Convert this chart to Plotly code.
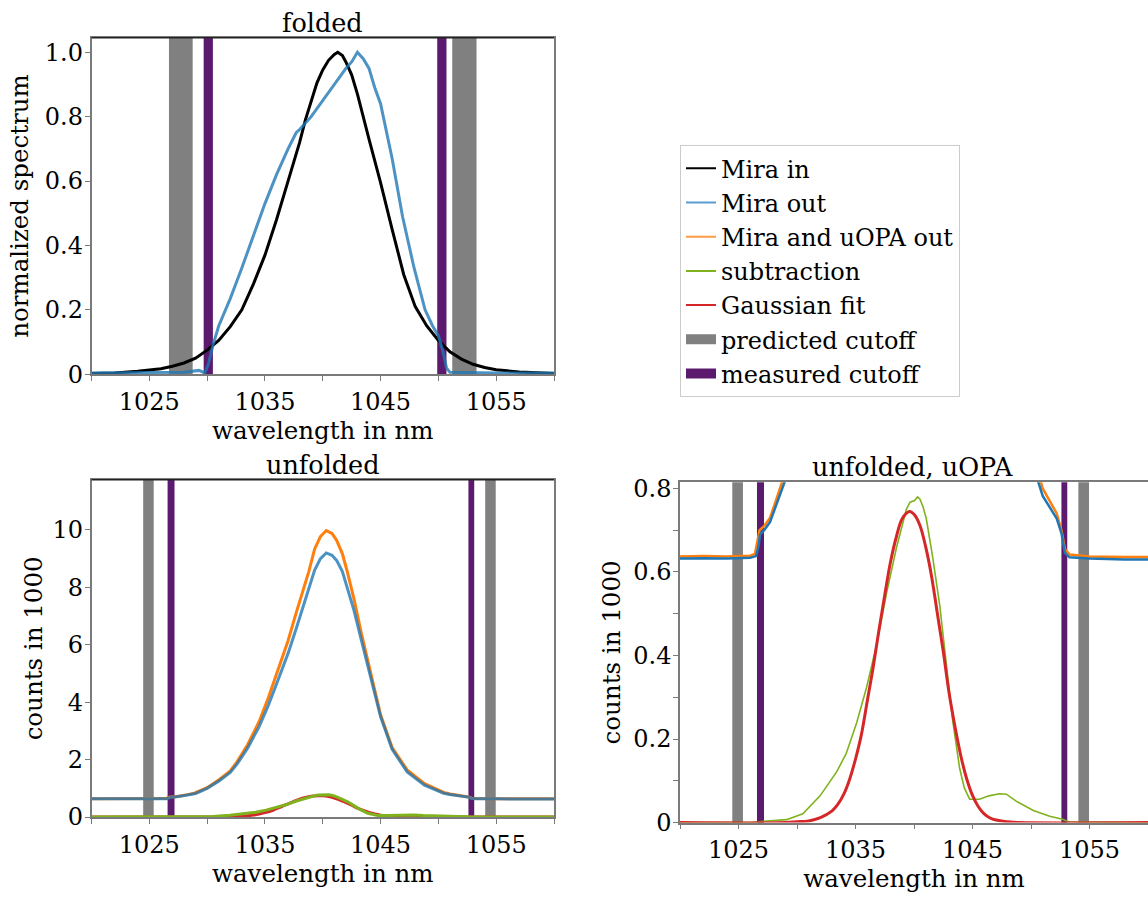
import plotly.graph_objects as go

# ---------------- data ----------------
# folded: normalized spectra
fold_in_wl = [1020, 1022, 1024, 1026, 1027, 1028, 1029, 1030, 1031, 1032, 1033, 1034, 1035, 1036,
              1037, 1038, 1038.5, 1039, 1039.5, 1040, 1040.5, 1041, 1041.3, 1041.7, 1042, 1042.5,
              1043, 1044, 1045, 1046, 1047, 1048, 1049, 1050, 1051, 1052, 1053, 1054, 1055, 1057, 1060]
fold_in = [0.002, 0.004, 0.009, 0.017, 0.025, 0.035, 0.05, 0.075, 0.105, 0.148, 0.2, 0.28, 0.37, 0.48,
           0.6, 0.72, 0.79, 0.85, 0.905, 0.945, 0.975, 0.993, 1.0, 0.99, 0.97, 0.93,
           0.87, 0.73, 0.595, 0.45, 0.31, 0.21, 0.15, 0.105, 0.07, 0.047, 0.031, 0.021, 0.014, 0.007, 0.002]

fold_out_wl = [1020, 1025, 1028, 1029.3, 1029.8, 1030.1, 1030.5, 1031, 1032, 1033, 1034, 1035, 1036,
               1037, 1037.7, 1038, 1039, 1040, 1041, 1042, 1042.5, 1043, 1043.5, 1044, 1044.5, 1045,
               1046, 1046.9, 1047.9, 1048.85, 1049.5, 1050, 1050.4, 1050.7, 1051, 1055, 1060]
fold_out = [0.004, 0.004, 0.006, 0.012, 0.004, 0.03, 0.09, 0.15, 0.235, 0.33, 0.43, 0.53, 0.62,
            0.70, 0.75, 0.76, 0.80, 0.85, 0.90, 0.95, 0.97, 1.0, 0.98, 0.95, 0.89, 0.84,
            0.67, 0.49, 0.33, 0.2, 0.15, 0.12, 0.07, 0.02, 0.006, 0.004, 0.004]

# unfolded: counts in 1000
unf_out_wl = [1020, 1022, 1024, 1026, 1026.5, 1026.7, 1026.85, 1027.2, 1027.7, 1028.3, 1029, 1030, 1031,
              1032, 1032.6, 1033.5, 1034.5, 1035.3, 1036.1, 1037, 1037.7, 1038.3, 1038.8, 1039.3,
              1039.8, 1040.3, 1040.8, 1041.2, 1041.7, 1042.1, 1042.7, 1043.3, 1044.1, 1045, 1046,
              1047.3, 1048.8, 1049.6, 1050.46, 1051, 1051.6, 1052.2, 1052.6, 1052.9, 1053.3, 1055,
              1058, 1060]
unf_out = [0.632, 0.633, 0.632, 0.634, 0.638, 0.66, 0.69, 0.70, 0.72, 0.765, 0.82, 1.0, 1.25,
           1.55, 1.85, 2.4, 3.15, 3.9, 4.74, 5.7, 6.56, 7.3, 7.9, 8.6,
           9.0, 9.2, 9.12, 8.94, 8.55, 8.04, 7.2, 6.22, 4.97, 3.5, 2.36,
           1.57, 1.11, 0.97, 0.83, 0.782, 0.755, 0.728, 0.693, 0.646, 0.635, 0.632,
           0.630, 0.630]

unf_both_wl = [1020, 1022, 1024, 1026, 1026.4, 1026.6, 1026.8, 1027.2, 1027.7, 1028.3, 1028.9, 1030, 1031,
               1032, 1032.6, 1033.5, 1034.5, 1035.3, 1036.1, 1037, 1037.7, 1038.3, 1038.8, 1039.3,
               1039.8, 1040.3, 1040.8, 1041.2, 1041.7, 1042.1, 1042.7, 1043.3, 1044.1, 1045, 1046,
               1047.3, 1048.8, 1049.6, 1050.46, 1051, 1051.6, 1052.2, 1052.6, 1052.9, 1053.3, 1055,
               1058, 1060]
unf_both = [0.637, 0.638, 0.637, 0.639, 0.643, 0.67, 0.70, 0.71, 0.73, 0.78, 0.83, 1.02, 1.29,
            1.61, 1.93, 2.52, 3.33, 4.16, 5.08, 6.14, 7.11, 7.93, 8.56, 9.34,
            9.77, 9.98, 9.88, 9.64, 9.17, 8.58, 7.6, 6.47, 5.08, 3.56, 2.42,
            1.64, 1.16, 1.0, 0.855, 0.80, 0.77, 0.74, 0.70, 0.655, 0.642, 0.637,
            0.636, 0.636]

sub_wl = [1020, 1026, 1027.2, 1029.1, 1030.5, 1031.97, 1033.4, 1034.2, 1035.1, 1035.95, 1036.8,
          1037.66, 1038.5, 1039.1, 1039.35, 1039.66, 1040.05, 1040.3, 1040.5, 1040.77, 1041.05,
          1041.6, 1042.2, 1042.76, 1043.3, 1043.9, 1044.3, 1044.76, 1045.6, 1046.4, 1047.3,
          1047.9, 1048.7, 1050.2, 1051.6, 1052.7, 1053.2, 1060]
sub = [0.0, 0.0, 0.003, 0.007, 0.021, 0.064, 0.122, 0.165, 0.239, 0.324, 0.425,
       0.55, 0.658, 0.728, 0.75, 0.767, 0.771, 0.78, 0.775, 0.756, 0.728,
       0.635, 0.52, 0.38, 0.246, 0.13, 0.083, 0.056, 0.056, 0.064, 0.069,
       0.068, 0.052, 0.029, 0.015, 0.008, 0.002, 0.0]

fit_wl = [1020, 1029, 1030, 1031, 1032, 1033, 1033.5, 1034, 1034.5, 1035, 1035.5, 1036, 1036.5,
          1037, 1037.5, 1038, 1038.5, 1039, 1039.6, 1040, 1040.5, 1041, 1041.5, 1042, 1042.5,
          1043, 1043.5, 1044, 1044.5, 1045, 1045.5, 1046, 1046.5, 1047, 1048, 1049, 1060]
fit = [0.0, 0.0, 0.002, 0.004, 0.012, 0.028, 0.044, 0.068, 0.104, 0.152, 0.21, 0.29, 0.37,
       0.46, 0.545, 0.625, 0.685, 0.728, 0.745, 0.738, 0.712, 0.66, 0.59, 0.5, 0.41,
       0.31, 0.23, 0.16, 0.105, 0.065, 0.038, 0.021, 0.011, 0.006, 0.002, 0.0, 0.0]

# cutoff bands [start, end] in nm
folded_pred = [[1026.7, 1028.75], [1051.2, 1053.3]]
folded_meas = [[1029.7, 1030.5], [1049.9, 1050.7]]
unfolded_pred = [[1024.47, 1025.38], [1054.05, 1054.96]]
unfolded_meas = [[1026.58, 1027.18], [1052.6, 1053.1]]

# ---------------- style ----------------
W, H = 1148, 903
FONT = "DejaVu Serif"
BLACK = "#000000"
BLUE_A = "rgba(31,119,180,0.8)"
BLUE = "#1f77b4"
ORANGE = "#ff7f0e"
GREEN = "#7fb21c"
RED = "#d62728"
PURPLE = "#5c1a6e"
GRAY = "#808080"
SPINE = "#7a7a7a"


def px_x(p):
    return p / W


def px_y(p):
    return 1 - p / H


dom = {
    "tl": ([px_x(91.5), px_x(554)], [px_y(376), px_y(31.5)]),
    "bl": ([px_x(91.5), px_x(554)], [px_y(829.3), px_y(484)]),
    "br": ([px_x(680), 1.0], [px_y(835), px_y(486.5)]),
}

fig = go.Figure()

# folded
fig.add_trace(go.Scatter(x=fold_in_wl, y=fold_in, mode="lines", line=dict(color=BLACK, width=3),
                         showlegend=False, xaxis="x", yaxis="y"))
fig.add_trace(go.Scatter(x=fold_out_wl, y=fold_out, mode="lines", line=dict(color=BLUE_A, width=3),
                         showlegend=False, xaxis="x", yaxis="y"))
# unfolded
fig.add_trace(go.Scatter(x=unf_both_wl, y=unf_both, mode="lines", line=dict(color=ORANGE, width=3),
                         showlegend=False, xaxis="x2", yaxis="y2"))
fig.add_trace(go.Scatter(x=unf_out_wl, y=unf_out, mode="lines", line=dict(color=BLUE_A, width=3),
                         showlegend=False, xaxis="x2", yaxis="y2"))
fig.add_trace(go.Scatter(x=fit_wl, y=fit, mode="lines", line=dict(color=RED, width=3, shape="spline"),
                         showlegend=False, xaxis="x2", yaxis="y2"))
fig.add_trace(go.Scatter(x=sub_wl, y=sub, mode="lines", line=dict(color=GREEN, width=3),
                         showlegend=False, xaxis="x2", yaxis="y2"))
# unfolded, uOPA
fig.add_trace(go.Scatter(x=unf_both_wl, y=unf_both, mode="lines", line=dict(color=ORANGE, width=2.5),
                         showlegend=False, xaxis="x3", yaxis="y3"))
fig.add_trace(go.Scatter(x=unf_out_wl, y=unf_out, mode="lines", line=dict(color=BLUE, width=2.5),
                         showlegend=False, xaxis="x3", yaxis="y3"))
fig.add_trace(go.Scatter(x=sub_wl, y=sub, mode="lines", line=dict(color=GREEN, width=1.6),
                         showlegend=False, xaxis="x3", yaxis="y3"))
fig.add_trace(go.Scatter(x=fit_wl, y=fit, mode="lines", line=dict(color=RED, width=3, shape="spline"),
                         showlegend=False, xaxis="x3", yaxis="y3"))

# legend entries
legend_items = [("Mira in", BLACK, 2), ("Mira out", "#5b9bd0", 2), ("Mira and uOPA out", "#ff9a45", 2),
                ("subtraction", GREEN, 2), ("Gaussian fit", RED, 2),
                ("predicted cutoff", GRAY, 10), ("measured cutoff", PURPLE, 10)]
for name, col, w in legend_items:
    fig.add_trace(go.Scatter(x=[None], y=[None], mode="lines", name=name,
                             line=dict(color=col, width=w), xaxis="x", yaxis="y"))

# cutoff bands
shapes = []
for xr, yr, pred, meas in [("x", "y", folded_pred, folded_meas),
                           ("x2", "y2", unfolded_pred, unfolded_meas),
                           ("x3", "y3", unfolded_pred, unfolded_meas)]:
    for band, col in [(b, GRAY) for b in pred] + [(b, PURPLE) for b in meas]:
        shapes.append(dict(type="rect", xref=xr, yref=yr + " domain", x0=band[0], x1=band[1],
                           y0=0, y1=1, fillcolor=col, line=dict(width=0), layer="below"))
# dark top spines of left panels
for xr, yr in [("x", "y"), ("x2", "y2")]:
    shapes.append(dict(type="line", xref=xr + " domain", yref=yr + " domain", x0=0, x1=1, y0=1, y1=1,
                       line=dict(color="#222222", width=1.5), layer="above"))

tickfont = dict(family=FONT, size=24, color="black")
titlefont = dict(family=FONT, size=24.5, color="black")


def xaxis(domain, anchor, mirror=True):
    return dict(domain=domain, anchor=anchor, range=[1020, 1060], showgrid=False, zeroline=False,
                showline=True, linecolor=SPINE, linewidth=1.5, mirror=mirror,
                ticks="outside", ticklen=5, tickwidth=1.3, tickcolor=SPINE,
                tickvals=[1025, 1035, 1045, 1055], ticktext=["1025", "1035", "1045", "1055"],
                minor=dict(tick0=1020, dtick=5, ticks="outside", ticklen=5, tickwidth=1.3, tickcolor=SPINE),
                tickfont=tickfont, title=dict(text="wavelength in nm", font=titlefont, standoff=1))


def yaxis(domain, anchor, rng, vals, text, title, standoff, mirror=True, minor=None):
    d = dict(domain=domain, anchor=anchor, range=rng, showgrid=False, zeroline=False,
             showline=True, linecolor=SPINE, linewidth=1.5, mirror=mirror,
             ticks="outside", ticklen=5, tickwidth=1.3, tickcolor=SPINE,
             tickvals=vals, ticktext=text, tickfont=tickfont, ticklabelstandoff=-3,
             title=dict(text=title, font=titlefont, standoff=standoff))
    if minor is not None:
        d["minor"] = dict(tickvals=minor, ticks="outside", ticklen=5, tickwidth=1.3, tickcolor=SPINE)
    return d


annotations = []
for text, (dx, dy) in [("folded", dom["tl"]), ("unfolded", dom["bl"]), ("unfolded, uOPA", dom["br"])]:
    annotations.append(dict(text=text, xref="paper", yref="paper", x=(dx[0] + dx[1]) / 2,
                            y=dy[1], xanchor="center", yanchor="bottom", yshift=-2, showarrow=False,
                            font=dict(family=FONT, size=25.5, color="black")))
# title of the bottom-right panel is centred on its visible part
annotations[2]["x"] = px_x(912)

fig.update_layout(
    width=W, height=H, margin=dict(l=0, r=0, t=0, b=0),
    paper_bgcolor="white", plot_bgcolor="white",
    font=dict(family=FONT, color="black"),
    xaxis=xaxis(dom["tl"][0], "y"),
    yaxis=yaxis(dom["tl"][1], "x", [0, 1.045], [0, 0.2, 0.4, 0.6, 0.8, 1.0],
                ["0", "0.2", "0.4", "0.6", "0.8", "1.0"], "normalized spectrum", 9),
    xaxis2=xaxis(dom["bl"][0], "y2"),
    yaxis2=yaxis(dom["bl"][1], "x2", [0, 11.75], [0, 2, 4, 6, 8, 10],
                 ["0", "2", "4", "6", "8", "10"], "counts in 1000", 3),
    xaxis3=xaxis(dom["br"][0], "y3"),
    yaxis3=yaxis(dom["br"][1], "x3", [0, 0.815], [0, 0.2, 0.4, 0.6, 0.8],
                 ["0", "0.2", "0.4", "0.6", "0.8"], "counts in 1000", 6, mirror=False,
                 minor=[0.1, 0.3, 0.5, 0.7]),
    legend=dict(x=px_x(680), y=px_y(270.5), xanchor="left", yanchor="middle",
                bgcolor="white", bordercolor="#cccccc", borderwidth=1,
                font=dict(family=FONT, size=24, color="black"), itemwidth=30,
                tracegroupgap=0),
    shapes=shapes, annotations=annotations,
)

fig.write_html("out.html")
